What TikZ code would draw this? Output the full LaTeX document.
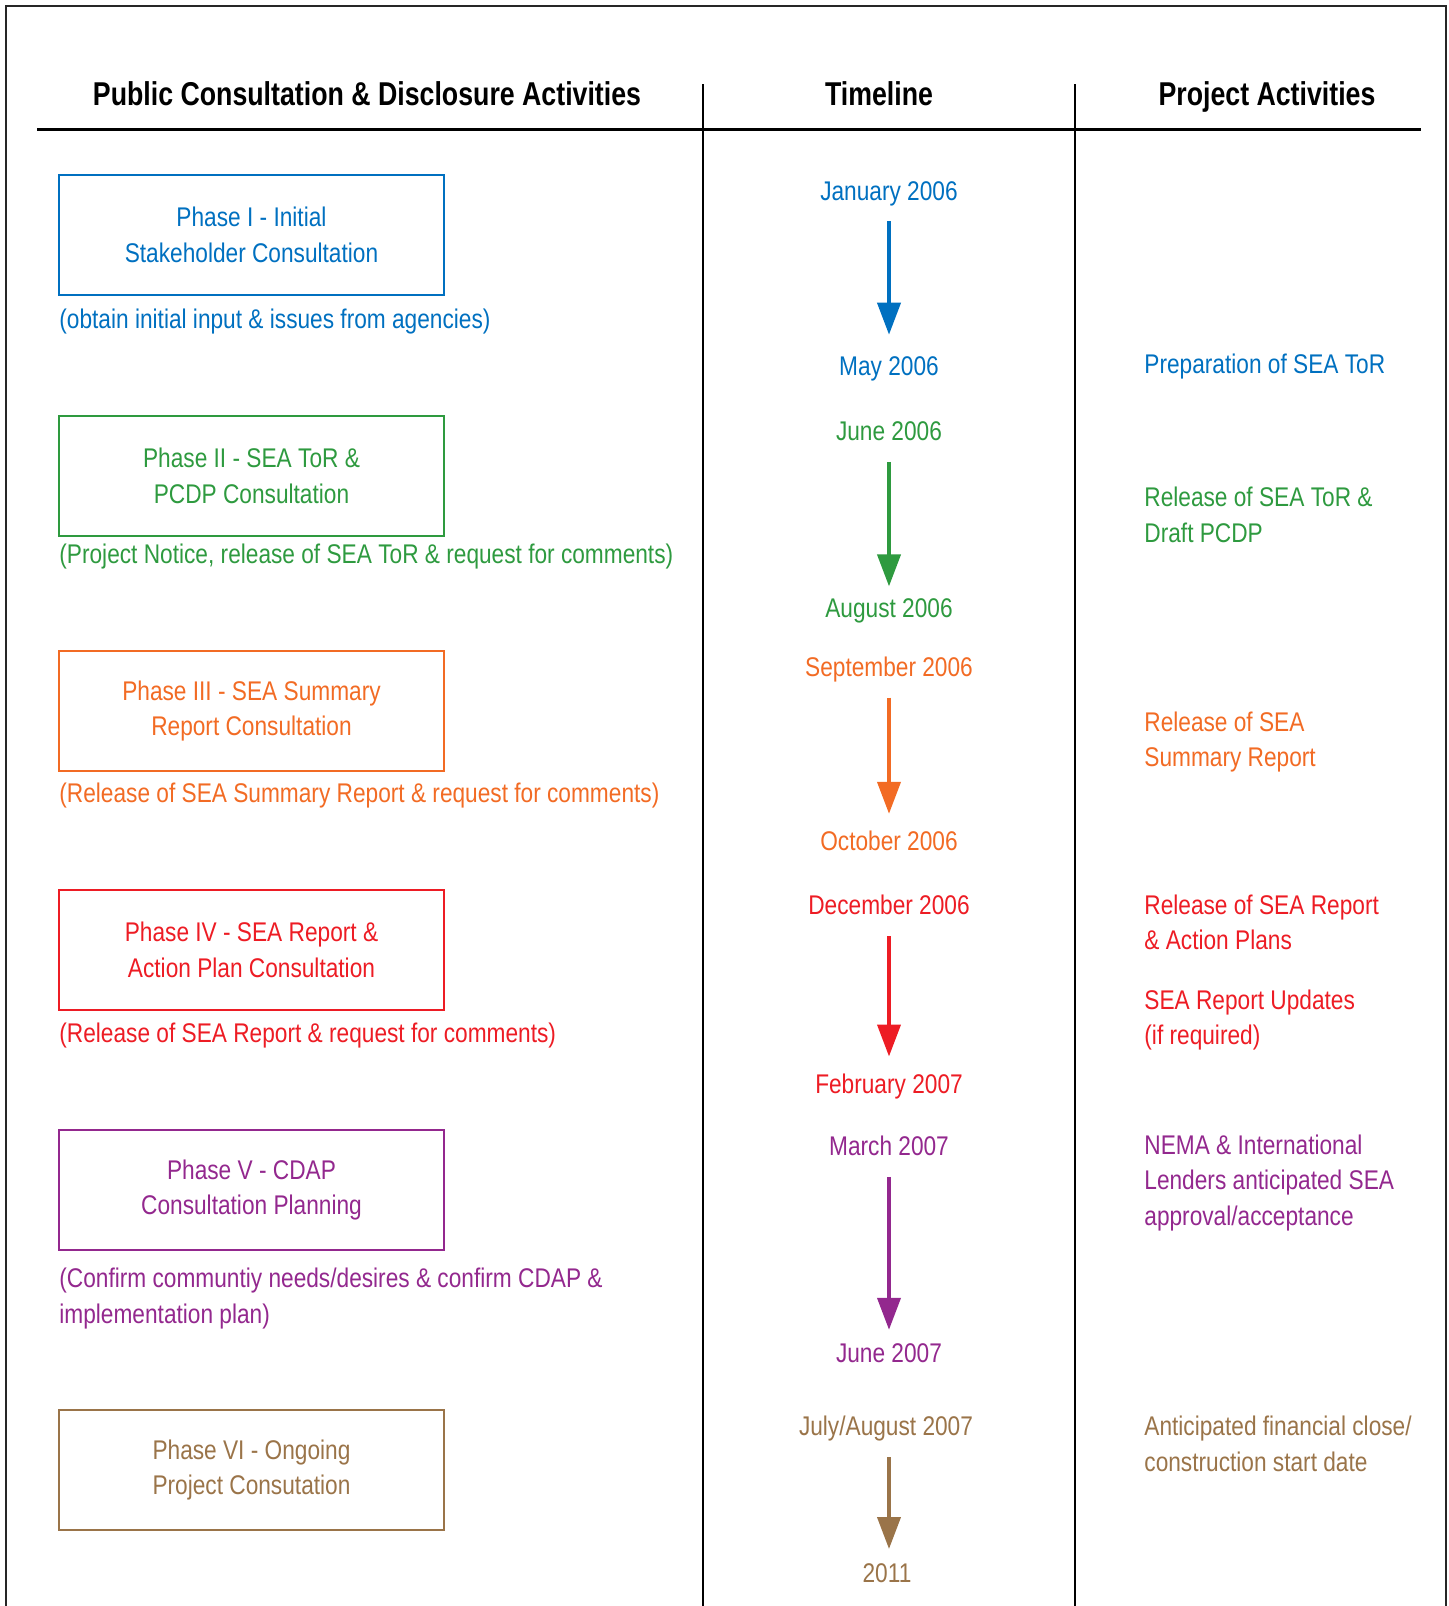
\documentclass[tikz,border=0pt]{standalone}
\usepackage{fontspec}
\setmainfont{Liberation Sans}[FakeStretch=0.84]
\newfontfamily\headfont{Liberation Sans}[FakeStretch=0.81]
\usepackage{xcolor}
\usetikzlibrary{arrows.meta, positioning}

\definecolor{phaseone}{RGB}{0,112,192}
\definecolor{phasetwo}{RGB}{46,154,63}
\definecolor{phasethree}{RGB}{242,107,36}
\definecolor{phasefour}{RGB}{237,28,36}
\definecolor{phasefive}{RGB}{147,40,142}
\definecolor{phasesix}{RGB}{154,116,73}

\begin{document}
\begin{tikzpicture}[x=0.5pt, y=-0.5pt,
  every node/.style={font=\fontsize{13.5}{17.7}\selectfont},
  head/.style={font=\headfont\bfseries\fontsize{16.5}{18}\selectfont, inner sep=0, anchor=base},
  phasebox/.style={draw, line width=1pt, minimum width=192.5pt, minimum height=60pt, align=center, inner sep=0},
  note/.style={anchor=west, align=left, inner sep=0},
  date/.style={inner sep=0, text height=9.5pt, text depth=0pt},
  arr/.style={line width=2pt, -{Triangle[width=11.5pt,length=16pt]}, shorten <=10.5pt}]
\useasboundingbox (0,0) rectangle (1449,1606);

% frame and columns
\draw[line width=1pt, black!85] (6,1606) |- (1446,6) -- (1446,1606);
\draw[line width=1.5pt] (37,129) -- (1421,129);
\draw[line width=1pt] (703,84) -- (703,1606);
\draw[line width=1pt] (1075,84) -- (1075,1606);

\node[head] (hpub) at (367,105.5) {Public Consultation \& Disclosure Activities};
\node[head] (htime) at (879,105.5) {Timeline};
\node[head] (hproj) at (1267,105.5) {Project Activities};

% phase boxes
\node[phasebox, phaseone] (p1) at (251.5,235) {Phase I - Initial\\Stakeholder Consultation};
\node[phasebox, phasetwo] (p2) at (251.5,476) {Phase II - SEA ToR \&\\PCDP Consultation};
\node[phasebox, phasethree] (p3) at (251.5,711) {Phase III - SEA Summary\\Report Consultation};
\node[phasebox, phasefour] (p4) at (251.5,950) {Phase IV - SEA Report \&\\Action Plan Consultation};
\node[phasebox, phasefive] (p5) at (251.5,1190) {Phase V - CDAP\\Consultation Planning};
\node[phasebox, phasesix] (p6) at (251.5,1470) {Phase VI - Ongoing\\Project Consutation};

% notes under boxes
\node[note, phaseone] (n1) at (59,321.5) {(obtain initial input \& issues from agencies)};
\node[note, phasetwo] (n2) at (59,557) {(Project Notice, release of SEA ToR \& request for comments)};
\node[note, phasethree] (n3) at (59,795.6) {(Release of SEA Summary Report \& request for comments)};
\node[note, phasefour] (n4) at (59,1036) {(Release of SEA Report \& request for comments)};
\node[note, phasefive] (n5) at (59,1298.5) {(Confirm communtiy needs/desires \& confirm CDAP \&\\implementation plan)};

% timeline
\node[date, phaseone] (jan06) at (889,190.5) {January 2006};
\node[date, phaseone] (may06) at (889,365.6) {May 2006};
\node[date, phasetwo] (jun06) at (889,431) {June 2006};
\node[date, phasetwo] (aug06) at (889,608.3) {August 2006};
\node[date, phasethree] (sep06) at (889,666.6) {September 2006};
\node[date, phasethree] (oct06) at (889,840.7) {October 2006};
\node[date, phasefour] (dec06) at (889,905.2) {December 2006};
\node[date, phasefour] (feb07) at (889,1084.4) {February 2007};
\node[date, phasefive] (mar07) at (889,1145.9) {March 2007};
\node[date, phasefive] (jun07) at (889,1352.7) {June 2007};
\node[date, phasesix] (jul07) at (886,1426.4) {July/August 2007};
\node[date, phasesix] (y2011) at (887,1572.9) {2011};

\draw[arr, phaseone, shorten >=10.5pt] (jan06) -- (may06);
\draw[arr, phasetwo, shorten >=6pt] (jun06) -- (aug06);
\draw[arr, phasethree, shorten >=8.5pt] (sep06) -- (oct06);
\draw[arr, phasefour, shorten >=9pt] (dec06) -- (feb07);
\draw[arr, phasefive, shorten >=6.5pt] (mar07) -- (jun07);
\draw[arr, phasesix, shorten >=7pt] (jul07.south -| jun07) -- (y2011.north -| jun07);

% project activities
\node[note, phaseone] (a1) at (1144,366.6) {Preparation of SEA ToR};
\node[note, phasetwo] (a2) at (1144,515) {Release of SEA ToR \&\\Draft PCDP};
\node[note, phasethree] (a3) at (1144,742) {Release of SEA\\Summary Report};
\node[note, phasefour] (a4) at (1144,922.6) {Release of SEA Report\\\& Action Plans};
\node[note, phasefour] (a5) at (1144,1020) {SEA Report Updates\\(if required)};
\node[note, phasefive] (a6) at (1144,1182.7) {NEMA \& International\\Lenders anticipated SEA\\approval/acceptance};
\node[note, phasesix] (a7) at (1144,1444) {Anticipated financial close/\\construction start date};
\end{tikzpicture}
\end{document}
